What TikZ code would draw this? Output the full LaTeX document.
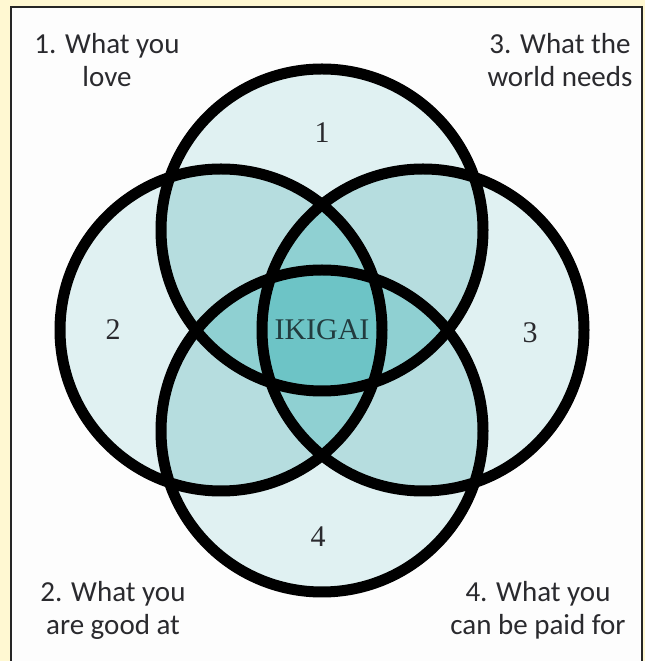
\documentclass[tikz,border=0pt]{standalone}
\usepackage{fontspec}
\setmainfont{Liberation Serif}
\newfontfamily\cornerfont{Carlito}

\definecolor{paper}{HTML}{FFF8D2}
\definecolor{panel}{HTML}{FDFDFD}
\definecolor{oneset}{HTML}{E0F1F2}
\definecolor{twoset}{HTML}{B6DDDF}
\definecolor{threeset}{HTML}{8FD0D2}
\definecolor{fourset}{HTML}{6DC4C6}
\definecolor{ink}{HTML}{2A2A2E}

\begin{document}
\begin{tikzpicture}[x=1pt,y=1pt,
  ring/.style={draw=black,line width=11pt},
  corner/.style={font=\cornerfont\fontsize{29}{33}\selectfont,text=ink,align=center},
  digit/.style={font=\fontsize{30}{34}\selectfont,text=ink}]

\useasboundingbox (0,0) rectangle (645,661);

% background and panel
\fill[paper] (0,0) rectangle (645,661);
\filldraw[fill=panel,draw=black!85,line width=1.5pt] (11,-5) rectangle (642,654);

% circle centres
\coordinate (c1) at (322,431);
\coordinate (c2) at (221,331);
\coordinate (c3) at (423,331);
\coordinate (c4) at (322,230);

% one circle
\foreach \p in {c1,c2,c3,c4}
  \fill[oneset] (\p) circle (161);

% two circles
\foreach \p/\q in {c1/c2,c1/c3,c1/c4,c2/c3,c2/c4,c3/c4}{
  \begin{scope}
    \clip (\p) circle (161);
    \fill[twoset] (\q) circle (161);
  \end{scope}
}

% three circles
\foreach \p/\q/\r in {c1/c2/c3,c1/c2/c4,c1/c3/c4,c2/c3/c4}{
  \begin{scope}
    \clip (\p) circle (161);
    \clip (\q) circle (161);
    \fill[threeset] (\r) circle (161);
  \end{scope}
}

% all four
\begin{scope}
  \clip (c1) circle (161);
  \clip (c2) circle (161);
  \clip (c3) circle (161);
  \fill[fourset] (c4) circle (161);
\end{scope}

% outlines
\foreach \p in {c1,c2,c3,c4}
  \draw[ring] (\p) circle (161);

% numbers and centre
\node[digit] (n1) at (322,528) {1};
\node[digit] (n2) at (113,331) {2};
\node[digit] (n3) at (530,328) {3};
\node[digit] (n4) at (318,124) {4};
\node[font=\fontsize{30}{34}\selectfont,text=ink!80!teal] (ikigai) at (322,331) {IKIGAI};

% corner texts
\node[corner] (love) at (107,601) {1. What you\\love};
\node[corner] (needs) at (560,601) {3. What the\\world needs};
\node[corner] (good) at (113,51) {2. What you\\are good at};
\node[corner] (paid) at (538,51) {4. What you\\can be paid for};

\end{tikzpicture}
\end{document}
